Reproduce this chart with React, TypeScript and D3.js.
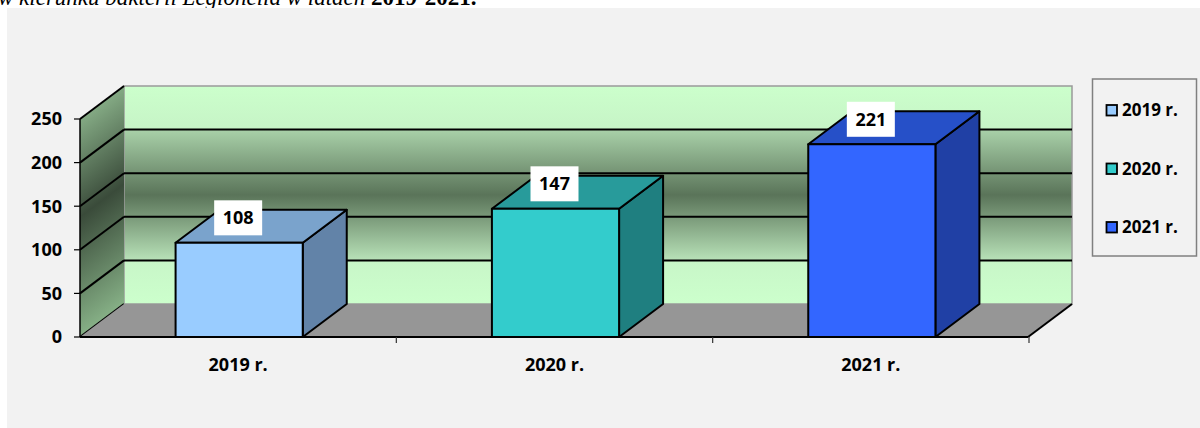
import React from "react";
import * as d3 from "d3";

const categories = ["2019 r.", "2020 r.", "2021 r."];
const values = [108, 147, 221];
const yTicks = [0, 50, 100, 150, 200, 250];
const frontColors = ["#99ccff", "#33cccc", "#3366ff"];
const topColors = ["#7aa3cc", "#289b9b", "#2650c8"];
const sideColors = ["#6283a8", "#1f7f80", "#2040a5"];
const titleItalic = "w kierunku bakterii Legionella w latach ";
const titleYears = "2019-2021.";

const W = 1200;
const H = 428;
const DX = 44;
const DY = -33;
const FONT = "'Open Sans', sans-serif";

export default function App() {
  const y = d3.scaleLinear().domain([0, 250]).range([337, 119]);
  const x = d3.scaleBand<string>().domain(categories).range([80, 1029]).padding(0);
  const x0 = 80;
  const x1 = 1028;
  const y0 = y(0);
  const yTop = y(250);
  const barW = x.bandwidth() * 0.402;

  const poly = (pts: [number, number][]) => pts.map((p) => p.join(",")).join(" ");

  return (
    <svg
      width={W}
      height={H}
      style={{ position: "fixed", left: 0, top: 0, display: "block" }}
      fontFamily={FONT}
    >
      <defs>
        <linearGradient id="backWall" x1="0" y1="0" x2="0" y2="1">
          <stop offset="0" stopColor="#ccffcc" />
          <stop offset="0.2" stopColor="#c6f4c6" />
          <stop offset="0.2" stopColor="#a9d1a9" />
          <stop offset="0.5" stopColor="#5a7459" />
          <stop offset="0.8" stopColor="#b8e2b8" />
          <stop offset="0.8" stopColor="#c8f6c8" />
          <stop offset="1" stopColor="#ccffcc" />
        </linearGradient>
        <linearGradient
          id="leftWall"
          gradientUnits="userSpaceOnUse"
          x1={80}
          y1={119}
          x2={184.6}
          y2={258.5}
        >
          <stop offset="0" stopColor="#84aa84" />
          <stop offset="0.45" stopColor="#3a4b3a" />
          <stop offset="1" stopColor="#86b086" />
        </linearGradient>
      </defs>
      <rect x={0} y={0} width={W} height={H} fill="#ffffff" />
      <text
        x={-2}
        y={5}
        fontFamily="'Liberation Serif', serif"
        fontSize={23}
        fill="#000"
      >
        <tspan fontStyle="italic">{titleItalic}</tspan>
        <tspan fontWeight={700}>{titleYears}</tspan>
      </text>
      <rect x={7} y={8} width={W - 7} height={H - 8} fill="#f2f2f2" />

      {/* back wall */}
      <rect
        x={x0 + DX}
        y={yTop + DY}
        width={x1 - x0}
        height={y0 - yTop}
        fill="url(#backWall)"
        stroke="#9a9a9a"
        strokeWidth={1.5}
      />
      {yTicks
        .filter((t) => t > 0 && t < 250)
        .map((t) => (
          <line
            key={"g" + t}
            x1={x0 + DX}
            x2={x1 + DX}
            y1={y(t) + DY}
            y2={y(t) + DY}
            stroke="#000"
            strokeWidth={2}
          />
        ))}

      {/* left wall */}
      <polygon
        points={poly([
          [x0, y0],
          [x0, yTop],
          [x0 + DX, yTop + DY],
          [x0 + DX, y0 + DY],
        ])}
        fill="url(#leftWall)"
      />
      {yTicks.map((t) => (
        <line
          key={"l" + t}
          x1={x0}
          y1={y(t)}
          x2={x0 + DX}
          y2={y(t) + DY}
          stroke="#000"
          strokeWidth={2}
        />
      ))}

      {/* floor */}
      <polygon
        points={poly([
          [x0, y0],
          [x1, y0],
          [x1 + DX, y0 + DY],
          [x0 + DX, y0 + DY],
        ])}
        fill="#969696"
      />
      <line x1={x0} y1={y0} x2={x1} y2={y0} stroke="#000" strokeWidth={2} />
      <line x1={x1} y1={y0} x2={x1 + DX} y2={y0 + DY} stroke="#000" strokeWidth={2} />

      {/* axes */}
      <line x1={x0} y1={yTop} x2={x0} y2={y0} stroke="#000" strokeWidth={1.5} />
      {yTicks.map((t) => (
        <g key={"t" + t}>
          <line x1={x0 - 6} x2={x0} y1={y(t)} y2={y(t)} stroke="#000" strokeWidth={1.2} />
          <text
            x={62}
            y={y(t)}
            dy="0.36em"
            textAnchor="end"
            fontSize={18}
            fontWeight={700}
            fill="#000"
          >
            {t}
          </text>
        </g>
      ))}
      {categories.map((c, i) => (
        <line
          key={"ct" + i}
          x1={(x(c) as number) + x.bandwidth()}
          x2={(x(c) as number) + x.bandwidth()}
          y1={y0}
          y2={y0 + 6}
          stroke="#333"
          strokeWidth={1.2}
        />
      ))}
      {categories.map((c) => (
        <text
          key={"cl" + c}
          x={(x(c) as number) + x.bandwidth() / 2}
          y={371}
          textAnchor="middle"
          fontSize={18}
          fontWeight={700}
          fill="#000"
        >
          {c}
        </text>
      ))}

      {/* bars */}
      {categories.map((c, i) => {
        const cx = (x(c) as number) + x.bandwidth() / 2 + 1;
        const l = cx - barW / 2;
        const r = cx + barW / 2;
        const t = y(values[i]);
        return (
          <g key={"b" + c} stroke="#000" strokeWidth={2} strokeLinejoin="round">
            <polygon
              points={poly([
                [r, y0],
                [r, t],
                [r + DX, t + DY],
                [r + DX, y0 + DY],
              ])}
              fill={sideColors[i]}
            />
            <polygon
              points={poly([
                [l, t],
                [r, t],
                [r + DX, t + DY],
                [l + DX, t + DY],
              ])}
              fill={topColors[i]}
            />
            <rect x={l} y={t} width={r - l} height={y0 - t} fill={frontColors[i]} />
          </g>
        );
      })}

      {/* data labels */}
      {categories.map((c, i) => {
        const cx = (x(c) as number) + x.bandwidth() / 2;
        const cy = y(values[i]) - 25;
        return (
          <g key={"d" + c}>
            <rect x={cx - 24} y={cy - 17.5} width={48} height={35} fill="#ffffff" />
            <text
              x={cx}
              y={cy}
              dy="0.36em"
              textAnchor="middle"
              fontSize={18}
              fontWeight={700}
              fill="#000"
            >
              {values[i]}
            </text>
          </g>
        );
      })}

      {/* legend */}
      <rect
        x={1092.5}
        y={79}
        width={104}
        height={177}
        fill="#f2f2f2"
        stroke="#808080"
        strokeWidth={1.5}
      />
      {categories.map((c, i) => {
        const ly = 110 + i * 58.5;
        return (
          <g key={"lg" + c}>
            <rect
              x={1106.5}
              y={ly - 5}
              width={10.5}
              height={10.5}
              fill={frontColors[i]}
              stroke="#000"
              strokeWidth={1.8}
            />
            <text
              x={1122}
              y={ly}
              dy="0.36em"
              fontSize={17}
              fontWeight={700}
              fill="#000"
            >
              {c}
            </text>
          </g>
        );
      })}
    </svg>
  );
}
